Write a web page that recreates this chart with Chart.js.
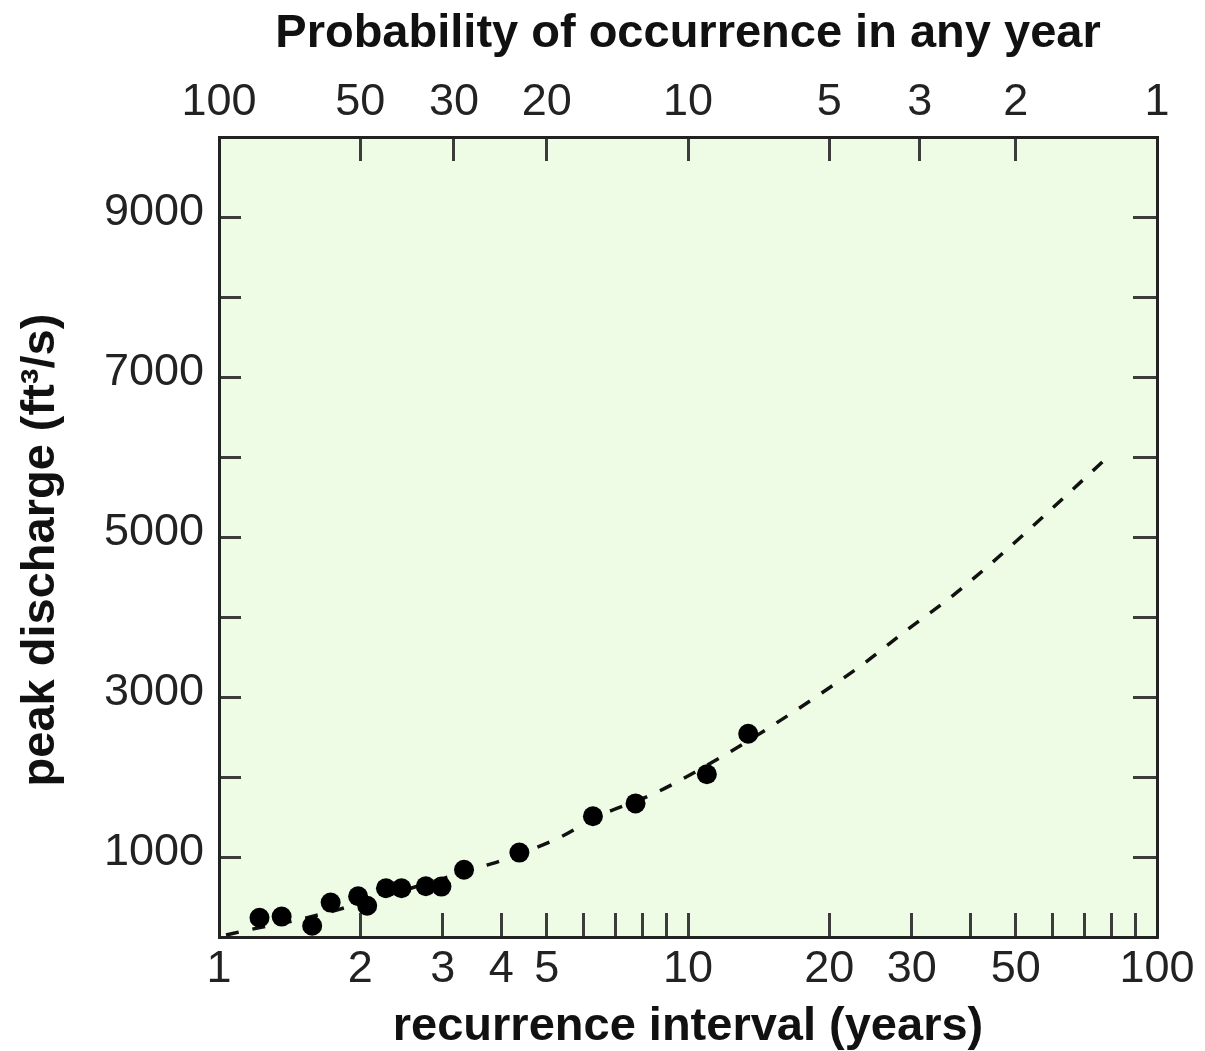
<!DOCTYPE html>
<html>
<head>
<meta charset="utf-8">
<script src="https://cdn.jsdelivr.net/npm/chart.js@4.4.0/dist/chart.umd.min.js"></script>
<style>
  body { margin: 0; background: #fff; }
  #wrap { width: 1205px; height: 1051px; }
</style>
</head>
<body>
<div id="wrap"><canvas id="floodChart" width="1205" height="1051"></canvas></div>
<script>
// annual peak flows: recurrence interval (years) vs peak discharge (ft3/s)
const recurrence = [1.22, 1.36, 1.58, 1.73, 1.98, 2.07, 2.27, 2.45, 2.76, 2.98, 3.33, 4.37, 6.27, 7.73, 10.97, 13.44];
const discharge = [240, 255, 140, 430, 510, 390, 610, 610, 635, 630, 840, 1055, 1510, 1670, 2035, 2540];

// fitted flood-frequency curve (dashed)
const curveYears = [1.035, 1.16, 1.5, 1.92, 2.19, 3.69, 4.02, 5.31, 6.39, 8.52, 12.1, 15.2, 19.0, 23.8, 29.1, 36.2, 44.4, 54.1, 66.0, 78.5];
const curveFlow = [25, 90, 225, 390, 490, 890, 960, 1240, 1500, 1800, 2290, 2650, 3025, 3425, 3825, 4240, 4675, 5125, 5590, 6000];

// bottom axis ticks
const xTickValues = [1, 2, 3, 4, 5, 6, 7, 8, 9, 10, 20, 30, 40, 50, 60, 70, 80, 90, 100];
const xTickLabels = [1, 2, 3, 4, 5, 10, 20, 30, 50, 100];

// top axis: probability (%) ticks and where they sit on the years scale
const probTickYears = [1, 2, 3.17, 5, 10, 20, 31.2, 50, 100];
const probTickLabels = ['100', '50', '30', '20', '10', '5', '3', '2', '1'];

// left axis labels (ticks every 1000)
const yTickLabels = [1000, 3000, 5000, 7000, 9000];

const plotGreen = '#eefce5';
const frameColor = '#222';
const tickColor = '#3c3c3c';

Chart.defaults.font.family = "'Liberation Sans', Arial, Helvetica, sans-serif";
Chart.defaults.color = '#222';

const tickFont = { size: 45, lineHeight: 1 };
const titleFont = { size: 47, weight: 'bold', lineHeight: 1 };

const plotBackground = {
    id: 'plotBackground',
    beforeDraw(chart) {
        const { ctx, chartArea: a } = chart;
        ctx.save();
        ctx.fillStyle = plotGreen;
        ctx.fillRect(a.left, a.top, a.right - a.left, a.bottom - a.top);
        ctx.restore();
    }
};

// inward tick marks: negative tickLength pushes them into the plot
const innerGrid = (len) => ({
    drawOnChartArea: false,
    drawTicks: true,
    tickLength: -len,
    tickWidth: 3,
    tickColor: tickColor
});
const frame = { display: true, color: frameColor, width: 3 };

// fixed box sizes so the plot frame lands where we want it
const fixHeight = (h) => (scale) => {
    scale.height = h;
    scale.paddingLeft = 0;
    scale.paddingRight = 0;
};
const fixWidth = (w) => (scale) => {
    scale.width = w;
    scale.paddingTop = 0;
    scale.paddingBottom = 0;
};

const config = {
    type: 'scatter',
    data: {
        datasets: [{
            label: 'annual peaks',
            data: recurrence.map((x, i) => ({ x: x, y: discharge[i] })),
            backgroundColor: '#000',
            borderWidth: 0,
            pointRadius: 10,
            pointHoverRadius: 10
        }, {
            type: 'line',
            label: 'fit',
            data: curveYears.map((x, i) => ({ x: x, y: curveFlow[i] })),
            borderColor: '#111',
            borderWidth: 3.5,
            borderDash: [13, 14],
            pointRadius: 0,
            fill: false,
            cubicInterpolationMode: 'monotone'
        }]
    },
    options: {
        responsive: false,
        animation: false,
        layout: { padding: 0 },
        plugins: {
            legend: { display: false },
            tooltip: { enabled: false }
        },
        scales: {
            x: {
                type: 'logarithmic',
                position: 'bottom',
                min: 1,
                max: 100,
                afterBuildTicks: (scale) => {
                    scale.ticks = xTickValues.map(v => ({ value: v }));
                },
                afterFit: fixHeight(114),
                grid: innerGrid(24),
                border: frame,
                ticks: {
                    autoSkip: false,
                    maxRotation: 0,
                    padding: 34,
                    font: tickFont,
                    callback: (v) => xTickLabels.includes(v) ? String(v) : ''
                },
                title: {
                    display: true,
                    text: 'recurrence interval (years)',
                    font: titleFont,
                    color: '#111',
                    padding: { top: 0, bottom: 0 }
                }
            },
            x2: {
                type: 'logarithmic',
                position: 'top',
                min: 1,
                max: 100,
                afterBuildTicks: (scale) => {
                    scale.ticks = probTickYears.map(v => ({ value: v }));
                },
                afterFit: fixHeight(137),
                grid: innerGrid(24),
                border: frame,
                ticks: {
                    autoSkip: false,
                    maxRotation: 0,
                    padding: 36,
                    font: tickFont,
                    callback: (v, i) => probTickLabels[i]
                },
                title: {
                    display: true,
                    text: 'Probability of occurrence in any year',
                    font: titleFont,
                    color: '#111',
                    padding: { top: 11, bottom: 0 }
                }
            },
            y: {
                type: 'linear',
                position: 'left',
                min: 0,
                max: 10000,
                afterFit: fixWidth(219),
                grid: innerGrid(22),
                border: frame,
                ticks: {
                    stepSize: 1000,
                    padding: 37,
                    labelOffset: -4,
                    font: tickFont,
                    callback: (v) => yTickLabels.includes(v) ? String(v) : ''
                },
                title: {
                    display: true,
                    text: 'peak discharge (ft\u00b3/s)  ',
                    font: titleFont,
                    color: '#111',
                    padding: { top: 18, bottom: 0 }
                }
            },
            y2: {
                type: 'linear',
                position: 'right',
                min: 0,
                max: 10000,
                afterFit: fixWidth(48),
                grid: innerGrid(24),
                border: frame,
                ticks: {
                    stepSize: 1000,
                    display: true,
                    font: { size: 1 },
                    callback: () => ''
                }
            }
        }
    },
    plugins: [plotBackground]
};

const floodChart = new Chart(document.getElementById('floodChart'), config);
</script>
</body>
</html>
